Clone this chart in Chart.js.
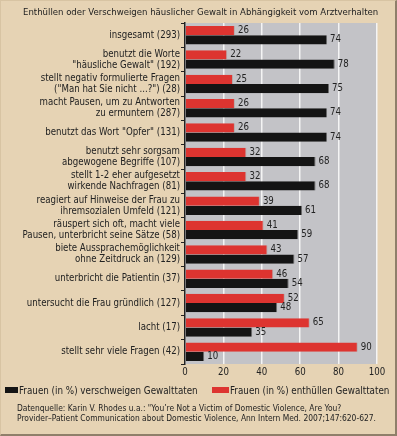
<!DOCTYPE html>
<html>
<head>
<meta charset="utf-8">
<script src="https://cdn.jsdelivr.net/npm/chart.js@4.4.1/dist/chart.umd.min.js"></script>
<style>
  html, body { margin: 0; padding: 0; background: #E6D3B4; }
  #wrap { position: relative; width: 397px; height: 436px; background: #E6D3B4; overflow: hidden;
          font-family: "DejaVu Sans Condensed", "DejaVu Sans", sans-serif; color: #222; }
  #c { position: absolute; left: 0; top: 0; }
  #frame { position: absolute; left: 0; top: 0; width: 397px; height: 436px; box-sizing: border-box;
           border-left: 1px solid #d8c4a3; border-top: 1px solid #d8c4a3;
           border-right: 2px solid #8f7f6a; border-bottom: 2px solid #8f7f6a; pointer-events: none; }
  #title { position: absolute; left: 23px; top: 6px; font-size: 9.5px; white-space: nowrap; }
  .leg { position: absolute; top: 385px; font-size: 9.75px; white-space: nowrap; line-height: 12px; }
  .box { display: inline-block; vertical-align: middle; height: 6px; margin-right: 1px; position: relative; top: -1px; }
  #src { position: absolute; left: 17px; top: 403px; font-size: 8.4px; line-height: 10px; white-space: nowrap; }
</style>
</head>
<body>
<div id="wrap">
  <canvas id="c" width="397" height="436"></canvas>
  <div id="title">Enthüllen oder Verschweigen häuslicher Gewalt in Abhängigkeit vom Arztverhalten</div>
  <div class="leg" style="left:5px"><span class="box" style="width:13px;background:#141414"></span>Frauen (in %) verschweigen Gewalttaten</div>
  <div class="leg" style="left:212px"><span class="box" style="width:17px;background:#DD3430"></span>Frauen (in %) enthüllen Gewalttaten</div>
  <div id="src">Datenquelle: Karin V. Rhodes u.a.: "You’re Not a Victim of Domestic Violence, Are You?<br>Provider–Patient Communication about Domestic Violence, Ann Intern Med. 2007;147:620-627.</div>
  <div id="frame"></div>
</div>
<script>
const categories = [
  ["insgesamt (293)"],
  ["benutzt die Worte", "\"häusliche Gewalt\" (192)"],
  ["stellt negativ formulierte Fragen", "(\"Man hat Sie nicht ...?\") (28)"],
  ["macht Pausen, um zu Antworten", "zu ermuntern (287)"],
  ["benutzt das Wort \"Opfer\" (131)"],
  ["benutzt sehr sorgsam", "abgewogene Begriffe (107)"],
  ["stellt 1-2 eher aufgesetzt", "wirkende Nachfragen (81)"],
  ["reagiert auf Hinweise der Frau zu", "ihremsozialen Umfeld (121)"],
  ["räuspert sich oft, macht viele", "Pausen, unterbricht seine Sätze (58)"],
  ["biete Aussprachemöglichkeit", "ohne Zeitdruck an (129)"],
  ["unterbricht die Patientin (37)"],
  ["untersucht die Frau gründlich (127)"],
  ["lacht (17)"],
  ["stellt sehr viele Fragen (42)"]
];
const enthuellen = [26, 22, 25, 26, 26, 32, 32, 39, 41, 43, 46, 52, 65, 90];
const verschweigen = [74, 78, 75, 74, 74, 68, 68, 61, 59, 57, 54, 48, 35, 10];
const xTicks = [0, 20, 40, 60, 80, 100];

const FONT = "'DejaVu Sans Condensed', 'DejaVu Sans', sans-serif";
const FS = 9.6;

const plotBg = {
  id: 'plotBg',
  beforeDraw(chart) {
    const a = chart.chartArea, ctx = chart.ctx;
    ctx.save();
    ctx.fillStyle = '#C3C3C7';
    ctx.fillRect(a.left, a.top, a.right - a.left, a.bottom - a.top);
    ctx.restore();
  }
};
const valueLabels = {
  id: 'valueLabels',
  afterDatasetsDraw(chart) {
    const ctx = chart.ctx;
    ctx.save();
    ctx.font = FS + 'px ' + FONT;
    ctx.fillStyle = '#222';
    ctx.textAlign = 'left';
    ctx.textBaseline = 'middle';
    chart.data.datasets.forEach((ds, i) => {
      chart.getDatasetMeta(i).data.forEach((el, j) => {
        ctx.fillText(String(ds.data[j]), el.x + 3, el.y);
      });
    });
    ctx.restore();
  }
};

new Chart(document.getElementById('c'), {
  type: 'bar',
  data: {
    labels: categories,
    datasets: [
      { label: 'Frauen (in %) enthüllen Gewalttaten', data: enthuellen, backgroundColor: '#DD3430',
        borderColor: '#b8a8a8', borderWidth: {right: 1, bottom: 0, top: 0, left: 0}, borderSkipped: false },
      { label: 'Frauen (in %) verschweigen Gewalttaten', data: verschweigen, backgroundColor: '#141414',
        borderColor: '#6a6a6a', borderWidth: {right: 1, bottom: 0, top: 0, left: 0}, borderSkipped: false }
    ]
  },
  options: {
    indexAxis: 'y',
    responsive: false,
    animation: false,
    devicePixelRatio: 1,
    layout: { padding: { left: 0, right: 20, top: 23, bottom: 56 } },
    datasets: { bar: { categoryPercentage: 0.76, barPercentage: 1.0 } },
    plugins: { legend: { display: false }, title: { display: false }, tooltip: { enabled: false } },
    scales: {
      x: {
        min: 0, max: 100,
        afterBuildTicks(scale) { scale.ticks = xTicks.map(v => ({ value: v })); },
        afterFit(scale) { scale.height = 16; },
        grid: { color: '#F4F4F4', lineWidth: 1.5, drawTicks: false },
        border: { display: false },
        ticks: { padding: 3, color: '#222', font: { family: FONT, size: FS } }
      },
      y: {
        afterFit(scale) { scale.width = 185; },
        grid: { offset: true, drawOnChartArea: false, tickLength: 4, color: '#222', lineWidth: 1 },
        border: { display: true, color: '#222', width: 1.5 },
        ticks: { padding: 1, color: '#222', autoSkip: false, font: { family: FONT, size: FS, lineHeight: 1.15 } }
      }
    }
  },
  plugins: [plotBg, valueLabels]
});
</script>
</body>
</html>
